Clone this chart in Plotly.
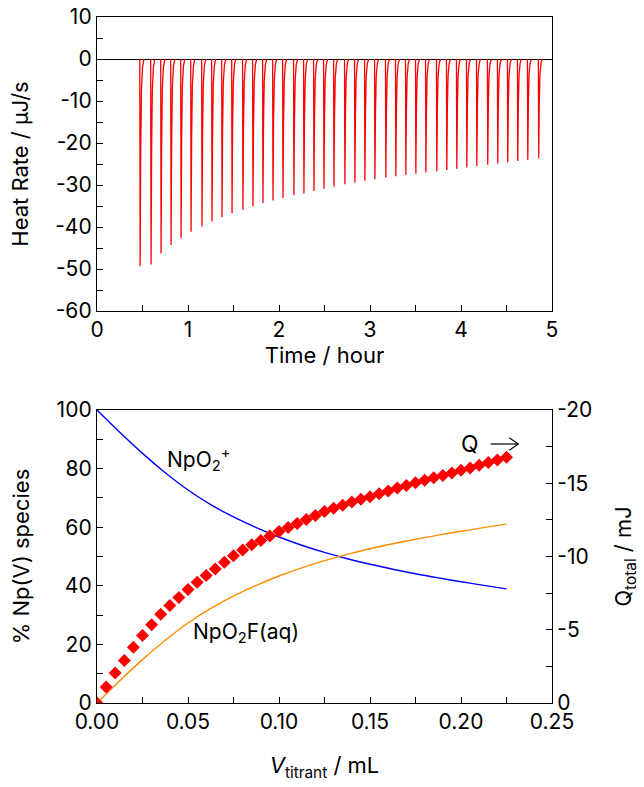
import plotly.graph_objects as go

# ---------------- data: ITC thermogram (top) ----------------
peak_time_h = [0.47, 0.59, 0.70, 0.81, 0.92, 1.03, 1.15, 1.26, 1.37, 1.48,
               1.60, 1.71, 1.82, 1.93, 2.04, 2.16, 2.27, 2.38, 2.49, 2.60,
               2.72, 2.83, 2.94, 3.05, 3.17, 3.28, 3.39, 3.50, 3.61, 3.73,
               3.84, 3.95, 4.06, 4.17, 4.29, 4.40, 4.51, 4.62, 4.73, 4.85]
peak_depth = [-49.3, -48.9, -46.3, -44.3, -42.7, -41.1, -39.9, -38.7, -37.7, -36.7,
              -35.9, -35.1, -34.3, -33.7, -33.1, -32.4, -32.0, -31.4, -30.9, -30.4,
              -29.8, -29.4, -29.0, -28.6, -28.2, -27.9, -27.6, -27.3, -27.0, -26.7,
              -26.4, -26.1, -25.8, -25.5, -25.2, -24.9, -24.6, -24.3, -24.0, -23.6]
# shape of one injection peak (offset in hours, fraction of depth)
spike_dt = [0.0, 0.004, 0.010, 0.018, 0.030, 0.045]
spike_frac = [0.0, 1.0, 0.45, 0.15, 0.04, 0.0]

top_yticks = [10, 0, -10, -20, -30, -40, -50, -60]
top_yticktext = ["10", "0", "-10", "-20", "-30", "-40", "-50", "-60"]

# ---------------- data: speciation + Q (bottom) ----------------
v_curve = [0.0, 0.0125, 0.025, 0.0375, 0.05, 0.0625, 0.075, 0.0875, 0.1, 0.1125,
           0.125, 0.1375, 0.15, 0.1625, 0.175, 0.1875, 0.2, 0.2125, 0.225]
npo2_pct = [100.0, 92.4, 85.2, 78.6, 72.7, 67.7, 63.5, 59.85, 56.65, 53.85,
            51.4, 49.25, 47.35, 45.65, 44.1, 42.7, 41.4, 40.15, 38.95]
npo2f_pct = [0.0, 7.6, 14.8, 21.4, 27.3, 32.3, 36.5, 40.15, 43.35, 46.15,
             48.6, 50.75, 52.65, 54.35, 55.9, 57.3, 58.6, 59.85, 61.05]

v_inj = [0.000, 0.005, 0.010, 0.015, 0.020, 0.025, 0.030, 0.035, 0.040, 0.045,
         0.050, 0.055, 0.060, 0.065, 0.070, 0.075, 0.080, 0.085, 0.090, 0.095,
         0.100, 0.105, 0.110, 0.115, 0.120, 0.125, 0.130, 0.135, 0.140, 0.145,
         0.150, 0.155, 0.160, 0.165, 0.170, 0.175, 0.180, 0.185, 0.190, 0.195,
         0.200, 0.205, 0.210, 0.215, 0.220, 0.225]
q_total = [0.0, -1.1, -2.05, -2.9, -3.8, -4.6, -5.35, -6.05, -6.65, -7.2,
           -7.75, -8.25, -8.7, -9.15, -9.6, -10.05, -10.45, -10.8, -11.1, -11.4,
           -11.7, -11.98, -12.25, -12.52, -12.8, -13.08, -13.3, -13.5, -13.72, -13.9,
           -14.08, -14.28, -14.48, -14.67, -14.85, -15.03, -15.2, -15.38, -15.53, -15.7,
           -15.88, -16.05, -16.23, -16.42, -16.58, -16.77]

right_yticks = [-20, -15, -10, -5, 0]
right_yticktext = ["-20", "-15", "-10", "-5", "0"]

# ---------------- build thermogram line ----------------
hx, hy = [], []
for t, d in zip(peak_time_h, peak_depth):
    for dt, f in zip(spike_dt, spike_frac):
        hx.append(t + dt)
        hy.append(d * f)
    hx.append(None)
    hy.append(None)

FONT = "Inter, Liberation Sans, Arial, sans-serif"
TICKF = dict(family=FONT, size=21, color="black")
TITLEF = dict(family=FONT, size=22, color="black")

fig = go.Figure()
fig.add_trace(go.Scatter(x=hx, y=hy, mode="lines", line=dict(color="#ff0000", width=1.3),
                         xaxis="x", yaxis="y", showlegend=False, hoverinfo="skip"))

fig.add_trace(go.Scatter(x=v_curve, y=npo2_pct, mode="lines", line=dict(color="#0000ff", width=1.4, shape="spline"),
                         xaxis="x2", yaxis="y2", showlegend=False))
fig.add_trace(go.Scatter(x=v_curve, y=npo2f_pct, mode="lines", line=dict(color="#ff8c00", width=1.4, shape="spline"),
                         xaxis="x2", yaxis="y2", showlegend=False))
fig.add_trace(go.Scatter(x=v_inj, y=q_total, mode="markers",
                         marker=dict(symbol="diamond", size=10, color="#ff0000", line=dict(width=0)),
                         xaxis="x2", yaxis="y3", showlegend=False))

common = dict(showline=True, linecolor="black", linewidth=1.3, showgrid=False,
              ticks="inside", ticklen=6, tickcolor="black", tickwidth=1.2,
              tickfont=TICKF, automargin=False, ticklabeloverflow="allow")

def minor(dt):
    return dict(tickmode="linear", tick0=0, dtick=dt, ticks="inside", ticklen=6,
                tickcolor="black", tickwidth=1.2, showgrid=False)

fig.update_layout(
    template="none",
    width=644, height=787,
    margin=dict(l=97, r=92, t=17, b=84),
    paper_bgcolor="white", plot_bgcolor="white",
    font=dict(family=FONT, color="black"),
    xaxis=dict(domain=[0, 1], anchor="y", range=[0, 5], tickvals=[0, 1, 2, 3, 4, 5],
               mirror=True, zeroline=False, title=dict(text="Time / hour", font=TITLEF, standoff=3),
               minor=minor(0.5), **common),
    yaxis=dict(domain=[0.5714, 1.0], anchor="x", range=[-60, 10], tickvals=top_yticks,
               ticktext=top_yticktext, mirror=True,
               title=dict(text="Heat Rate / \u03bcJ/s", font=TITLEF, standoff=20),
               minor=minor(5), zeroline=True, zerolinecolor="black", zerolinewidth=1.3,
               **common),
    xaxis2=dict(domain=[0, 1], anchor="y2", range=[0, 0.25], tickvals=[0, 0.05, 0.1, 0.15, 0.2, 0.25],
                tickformat=".2f", mirror=True, zeroline=False,
                title=dict(text="<i>V</i><sub>titrant</sub> / mL", font=TITLEF, standoff=24),
                minor=minor(0.025), **common),
    yaxis2=dict(domain=[0, 0.4271], anchor="x2", range=[0, 100], tickvals=[0, 20, 40, 60, 80, 100],
                mirror=False, zeroline=False, title=dict(text="% Np(V) species", font=TITLEF, standoff=20),
                minor=minor(10), **common),
    yaxis3=dict(overlaying="y2", anchor="x2", side="right", range=[0, -20], tickvals=right_yticks,
                ticktext=right_yticktext, zeroline=False,
                title=dict(text="Q<sub>total</sub> / mJ", font=TITLEF, standoff=24),
                minor=minor(2.5), **common),
)

ann_font = dict(family=FONT, size=21, color="black")
fig.add_annotation(x=0.0555, y=83, xref="x2", yref="y2", text="NpO<sub>2</sub><sup>+</sup>",
                   showarrow=False, font=ann_font)
fig.add_annotation(x=0.0817, y=24, xref="x2", yref="y2", text="NpO<sub>2</sub>F(aq)",
                   showarrow=False, font=ann_font)
fig.add_annotation(x=0.205, y=88.5, xref="x2", yref="y2", text="Q",
                   showarrow=False, font=dict(family=FONT, size=23, color="black"))
# arrow next to Q
fig.add_shape(type="line", xref="x2", yref="y2", x0=0.2163, x1=0.2315, y0=88.4, y1=88.4,
              line=dict(color="black", width=1.2))
fig.add_shape(type="line", xref="x2", yref="y2", x0=0.2265, x1=0.2315, y0=90.5, y1=88.4,
              line=dict(color="black", width=1.2))
fig.add_shape(type="line", xref="x2", yref="y2", x0=0.2265, x1=0.2315, y0=86.3, y1=88.4,
              line=dict(color="black", width=1.2))

# remove the page's default 8px body margin so the figure sits at the window origin
fig.write_html("out.html",
               config={"displayModeBar": False},
               post_script="document.body.style.margin='0';document.body.style.padding='0';")
